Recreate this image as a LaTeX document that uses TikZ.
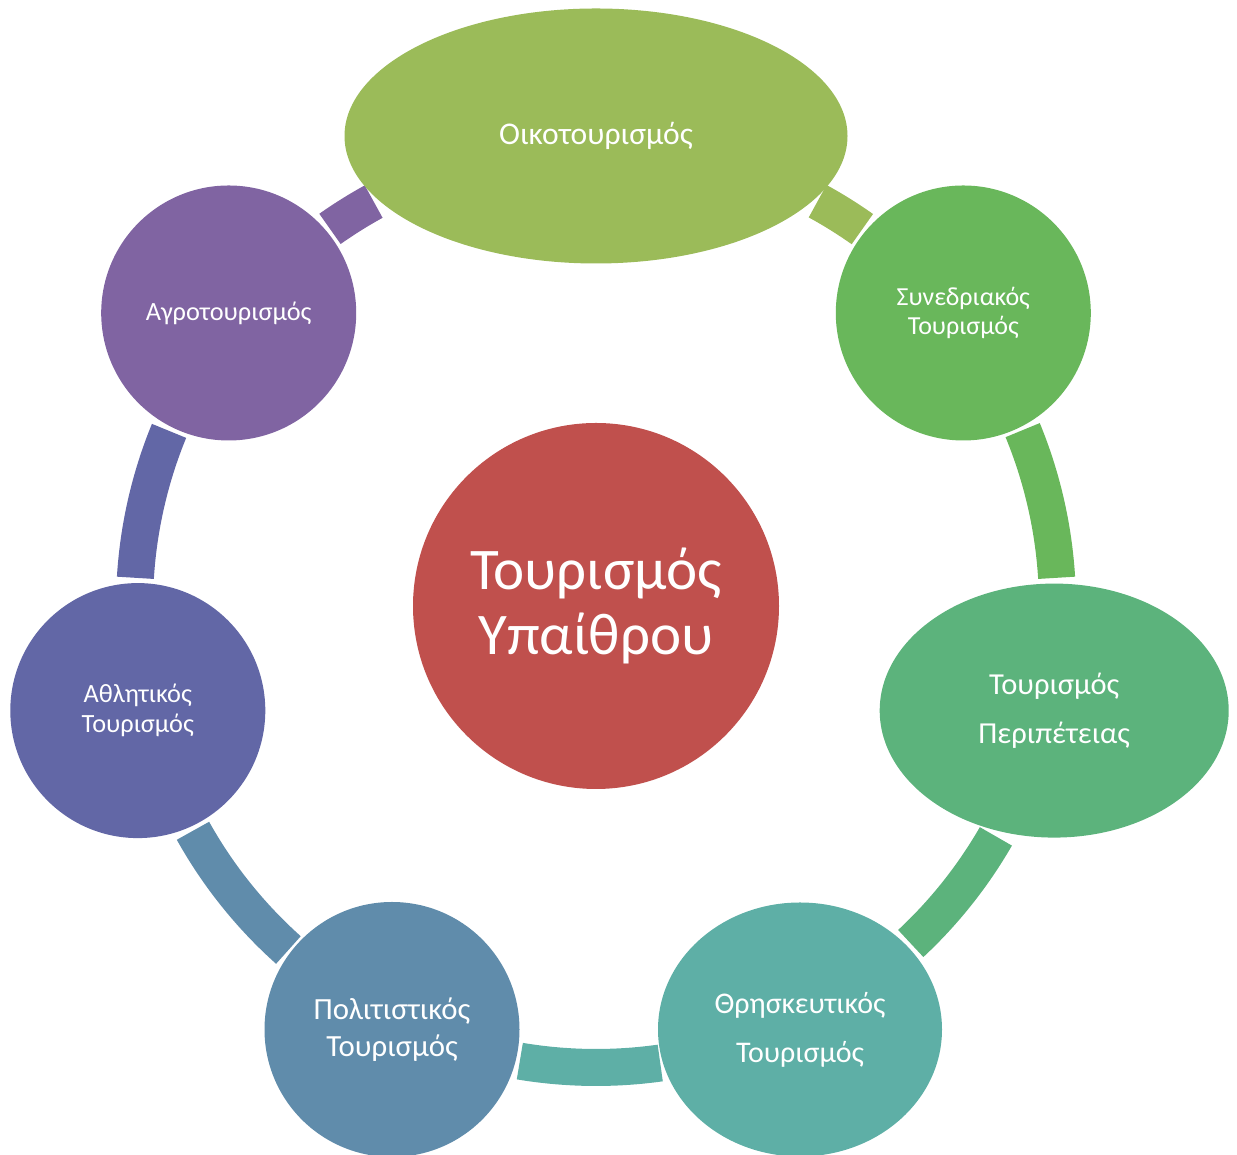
\documentclass[tikz,border=0pt]{standalone}
\usepackage{fontspec}
\setmainfont{Carlito}
\usetikzlibrary{shapes.geometric,calc}
\definecolor{cOik}{HTML}{9BBB59}
\definecolor{cSyn}{HTML}{69B75B}
\definecolor{cPer}{HTML}{5CB37C}
\definecolor{cThr}{HTML}{5EAFA6}
\definecolor{cPol}{HTML}{608CAB}
\definecolor{cAth}{HTML}{6267A6}
\definecolor{cAgr}{HTML}{8064A2}
\definecolor{cCen}{HTML}{C0504D}
\newcommand\ringseg[3]{\fill[#1] ($(c)+(#2:480)$) arc[start angle=#2,end angle=#3,radius=480] -- ($(c)+(#3:443)$) arc[start angle=#3,end angle=#2,radius=443] -- cycle;}
\begin{document}
\begin{tikzpicture}[x=1pt,y=1pt,
  lbl/.style={text=white, align=center, inner sep=0pt},
  circnode/.style={lbl, circle, minimum size=255},
  ellnode/.style={lbl, ellipse}]
\clip (0,0) rectangle (1237,1155);
\coordinate (c) at (596,549);
% ring segments
\ringseg{cOik}{54.75}{61.3}
\ringseg{cSyn}{3.5}{22.4}
\ringseg{cPer}{-47.0}{-29.95}
\ringseg{cThr}{-99.5}{-82.0}
\ringseg{cPol}{209.15}{228.2}
\ringseg{cAth}{157.7}{176.5}
\ringseg{cAgr}{118.8}{125.2}
% nodes
\node[lbl, circle, fill=cCen, minimum size=366, font=\fontsize{59}{65.5}\selectfont] (center) at (c) {Τουρισμός\\Υπαίθρου};
\node[ellnode, fill=cOik, minimum width=503, minimum height=255, font=\fontsize{31.6}{34}\selectfont] (oiko) at (596,1019) {Οικοτουρισμός};
\node[circnode, fill=cSyn, font=\fontsize{26}{28.5}\selectfont] (syn) at (963.3,842) {Συνεδριακός\\Τουρισμός};
\node[ellnode, fill=cPer, minimum width=349, minimum height=254, font=\fontsize{30.5}{49}\selectfont] (per) at (1054.2,444.4) {Τουρισμός\\Περιπέτειας};
\node[ellnode, fill=cThr, minimum width=284, minimum height=254, font=\fontsize{30}{49}\selectfont] (thr) at (800,125.5) {Θρησκευτικός\\Τουρισμός};
\node[circnode, fill=cPol, font=\fontsize{30.8}{37}\selectfont] (pol) at (392,125.5) {Πολιτιστικός\\Τουρισμός};
\node[circnode, fill=cAth, font=\fontsize{26.3}{30}\selectfont] (ath) at (137.8,444.4) {Αθλητικός\\Τουρισμός};
\node[circnode, fill=cAgr, font=\fontsize{26.3}{28}\selectfont] (agr) at (228.7,842) {Αγροτουρισμός};
\end{tikzpicture}
\end{document}
